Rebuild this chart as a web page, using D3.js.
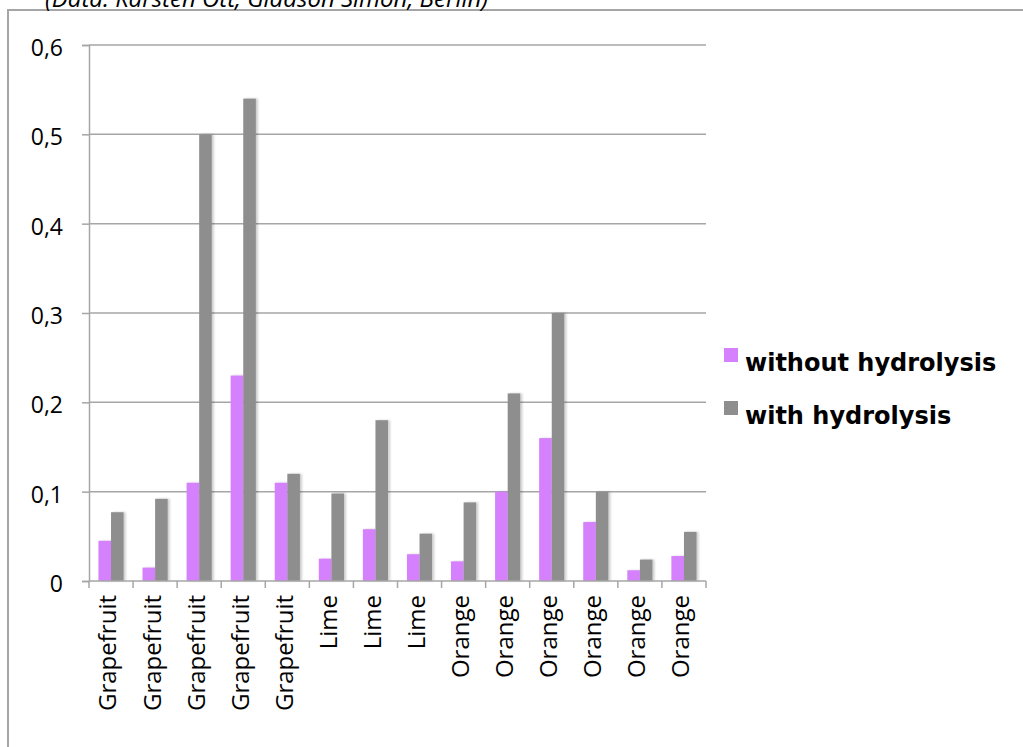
<!DOCTYPE html>
<html>
<head>
<meta charset="utf-8">
<script src="https://cdn.jsdelivr.net/npm/d3@7"></script>
<style>
  body { margin: 0; background: #fff; }
  svg { display: block; }
</style>
</head>
<body>
<div class="bar-chart"></div>
<script>
var categories = ["Grapefruit","Grapefruit","Grapefruit","Grapefruit","Grapefruit","Lime","Lime","Lime","Orange","Orange","Orange","Orange","Orange","Orange"]
var withoutHydrolysis = [0.045,0.015,0.11,0.23,0.11,0.025,0.058,0.030,0.022,0.10,0.16,0.066,0.012,0.028]
var withHydrolysis = [0.077,0.092,0.50,0.54,0.12,0.098,0.18,0.053,0.088,0.21,0.30,0.10,0.024,0.055]
var series = ["without hydrolysis","with hydrolysis"]
var colors = ["#d580fc","#8e8e8e"]
var yTicks = [0,0.1,0.2,0.3,0.4,0.5,0.6]

var width = 1023, height = 747
var padding = { top: 45, right: 317, bottom: 166, left: 89 }

var svg = d3.select(".bar-chart")
            .append("svg")
            .attr("width", width)
            .attr("height", height)

// outer frame, cut by the page edge like the original screenshot
svg.append("rect")
   .attr("x", 8).attr("y", 10)
   .attr("width", width + 20).attr("height", height + 20)
   .style("fill", "none")
   .style("stroke", "#a6a6a6")
   .style("stroke-width", 2)

svg.append("text")
   .text("(Data: Karsten Ott, Gladson Simon, Berlin)")
   .attr("x", 45)
   .attr("y", 7)
   .style("font-family", "'Open Sans'")
   .style("font-style", "italic")
   .style("font-size", "24px")
   .style("fill", "#000")

var rows = categories.map((c, i) => { return { i: i, cat: c, vals: [withoutHydrolysis[i], withHydrolysis[i]] } })

var xScale = d3.scaleBand().domain(d3.range(categories.length)).range([padding.left, width - padding.right])
var xSub = d3.scaleBand().domain(series).range([0, xScale.bandwidth()]).paddingInner(0).paddingOuter(0.75)
var yScale = d3.scaleLinear().domain([0, 0.6]).range([height - padding.bottom, padding.top])

var fmt = (d) => { return d === 0 ? "0" : d3.format(".1f")(d).replace(".", ",") }

// grid
svg.append("g")
   .selectAll("line")
   .data(yTicks.slice(1))
   .enter().append("line")
   .attr("x1", padding.left).attr("x2", width - padding.right)
   .attr("y1", (d) => yScale(d)).attr("y2", (d) => yScale(d))
   .style("stroke", "#a6a6a6")
   .style("stroke-width", 1.5)

var defs = svg.append("defs")
var shadow = defs.append("filter").attr("id", "shadow").attr("x", "-20%").attr("y", "-5%").attr("width", "160%").attr("height", "110%")
shadow.append("feDropShadow").attr("dx", 2).attr("dy", 0).attr("stdDeviation", 1.2).attr("flood-color", "#000").attr("flood-opacity", 0.2)

// bars
var groups = svg.append("g")
   .selectAll("g")
   .data(rows)
   .enter().append("g")
   .attr("transform", (d) => "translate(" + xScale(d.i) + ",0)")

groups.selectAll("rect")
   .data((d) => d.vals.map((v, k) => { return { key: series[k], k: k, v: v } }))
   .enter().append("rect")
   .attr("x", (d) => xSub(d.key))
   .attr("width", xSub.bandwidth())
   .attr("y", (d) => yScale(d.v))
   .attr("height", (d) => yScale(0) - yScale(d.v))
   .attr("filter", "url(#shadow)")
   .style("fill", (d) => colors[d.k])

// y axis
var yAxis = d3.axisLeft(yScale).tickValues(yTicks).tickFormat(fmt).tickSize(7).tickPadding(19)
var gy = svg.append("g")
   .attr("transform", "translate(" + padding.left + ",0)")
   .call(yAxis)
gy.select(".domain").style("stroke", "#a6a6a6").style("stroke-width", 1.5)
gy.selectAll(".tick line").style("stroke", "#a6a6a6").style("stroke-width", 1.5)
gy.selectAll(".tick text")
   .style("font-family", "'Open Sans'")
   .style("font-size", "23px")
   .style("fill", "#000")
   .attr("dy", "0.45em")

// x axis: ticks on category boundaries
var gx = svg.append("g").attr("transform", "translate(0," + yScale(0) + ")")
gx.append("line")
   .attr("x1", padding.left).attr("x2", width - padding.right)
   .style("stroke", "#a6a6a6").style("stroke-width", 1.5)
gx.selectAll(".xtick")
   .data(d3.range(categories.length + 1))
   .enter().append("line")
   .attr("x1", (d) => d < categories.length ? xScale(d) : xScale.range()[1])
   .attr("x2", (d) => d < categories.length ? xScale(d) : xScale.range()[1])
   .attr("y1", 0).attr("y2", 7)
   .style("stroke", "#a6a6a6").style("stroke-width", 1.5)
gx.selectAll(".xlabel")
   .data(rows)
   .enter().append("text")
   .text((d) => d.cat)
   .attr("transform", (d) => "translate(" + (xScale(d.i) + xScale.bandwidth() / 2 - 3) + ",14) rotate(-90)")
   .attr("dy", "0.35em")
   .style("text-anchor", "end")
   .style("font-family", "'Open Sans'")
   .style("font-size", "24px")
   .style("fill", "#000")

// legend
var legend = svg.append("g")
   .selectAll("g")
   .data(series)
   .enter().append("g")
   .attr("transform", (d, i) => "translate(724," + (348 + i * 53) + ")")
legend.append("rect")
   .attr("width", 14).attr("height", 14)
   .style("fill", (d, i) => colors[i])
legend.append("text")
   .text((d) => d)
   .attr("x", 21)
   .attr("y", 23)
   .style("font-family", "'DejaVu Sans'")
   .style("font-weight", "bold")
   .style("font-size", "24px")
   .style("fill", "#000")
</script>
</body>
</html>
